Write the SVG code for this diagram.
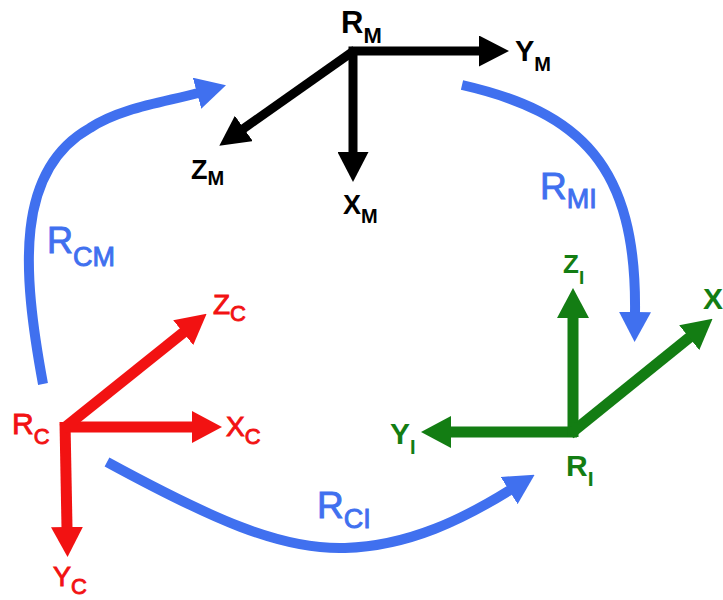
<svg xmlns="http://www.w3.org/2000/svg" width="723" height="600" viewBox="0 0 723 600">
<style>
.lbl{font-family:"Liberation Sans",Arial,sans-serif}
.b{font-weight:bold}
.blk{fill:#000}
.red{fill:#f21212;stroke:#f21212;stroke-width:0.9}
.grn{fill:#137d13}
.blu{fill:#4070ef;stroke:#4070ef;stroke-width:0.9}
.ax{fill:none;stroke-linecap:butt}
</style>
<defs>
<marker id="hBlk" markerUnits="userSpaceOnUse" viewBox="0 0 30 31" markerWidth="30" markerHeight="31" refX="1" refY="15.5" orient="auto"><path d="M0,0 L30,15.5 L0,31 z" fill="#000"/></marker>
<marker id="hRed" markerUnits="userSpaceOnUse" viewBox="0 0 30 32" markerWidth="30" markerHeight="32" refX="1" refY="16" orient="auto"><path d="M0,0 L30,16 L0,32 z" fill="#f21212"/></marker>
<marker id="hGrn" markerUnits="userSpaceOnUse" viewBox="0 0 30 32" markerWidth="30" markerHeight="32" refX="1" refY="16" orient="auto"><path d="M0,0 L30,16 L0,32 z" fill="#137d13"/></marker>
<marker id="hBlu" markerUnits="userSpaceOnUse" viewBox="0 0 30 32" markerWidth="30" markerHeight="32" refX="1" refY="16" orient="auto"><path d="M0,0 L30,16 L0,32 z" fill="#4070ef"/></marker>
</defs>
<rect width="723" height="600" fill="#fff"/>

<g id="frame-M">
<path class="ax" d="M353,55 L353,51 L480,51" stroke="#000" stroke-width="9" marker-end="url(#hBlk)"/>
<path class="ax" d="M353,51 L353,153" stroke="#000" stroke-width="9" marker-end="url(#hBlk)"/>
<path class="ax" d="M355,50 L243,129" stroke="#000" stroke-width="9" marker-end="url(#hBlk)"/>
<text class="lbl b blk" x="341" y="33" font-size="31">R<tspan font-size="22" dy="10">M</tspan></text>
<text class="lbl b blk" x="515" y="61" font-size="29">Y<tspan font-size="20" dy="10">M</tspan></text>
<text class="lbl b blk" x="191" y="179" font-size="27">Z<tspan font-size="20" dy="6">M</tspan></text>
<text class="lbl b blk" x="343" y="214" font-size="27">X<tspan font-size="20" dy="9">M</tspan></text>
</g>

<g id="frame-C">
<path class="ax" d="M65,427 L193,427" stroke="#f21212" stroke-width="11" marker-end="url(#hRed)"/>
<path class="ax" d="M65,422 L67,528" stroke="#f21212" stroke-width="11" marker-end="url(#hRed)"/>
<path class="ax" d="M63,429 L184,332" stroke="#f21212" stroke-width="11" marker-end="url(#hRed)"/>
<text class="lbl red" x="12" y="434" font-size="30">R<tspan font-size="22" dy="10">C</tspan></text>
<text class="lbl red" x="226" y="436" font-size="28">X<tspan font-size="22" dy="8">C</tspan></text>
<text class="lbl red" x="213" y="314" font-size="28">Z<tspan font-size="22" dy="7">C</tspan></text>
<text class="lbl red" x="53" y="586" font-size="27">Y<tspan font-size="22" dy="8">C</tspan></text>
</g>

<g id="frame-I">
<path class="ax" d="M577,432 L450,432" stroke="#137d13" stroke-width="11" marker-end="url(#hGrn)"/>
<path class="ax" d="M573,437 L573,317" stroke="#137d13" stroke-width="11" marker-end="url(#hGrn)"/>
<path class="ax" d="M570,434 L690,337" stroke="#137d13" stroke-width="11" marker-end="url(#hGrn)"/>
<text class="lbl b grn" x="563" y="273" font-size="26">Z<tspan font-size="19" dy="11">I</tspan></text>
<text class="lbl b grn" x="566" y="476" font-size="30">R<tspan font-size="21" dy="10">I</tspan></text>
<text class="lbl b grn" x="390" y="444" font-size="30">Y<tspan font-size="20" dy="10">I</tspan></text>
<text class="lbl b grn" x="703" y="309" font-size="30">X</text>
</g>

<g id="connectors">
<path class="ax" d="M43,384 C22,270 15,170 90,128 C120,108 165,102 198,93" stroke="#4070ef" stroke-width="10" marker-end="url(#hBlu)"/>
<path class="ax" d="M462,85 C580,112 637,165 635,313" stroke="#4070ef" stroke-width="10" marker-end="url(#hBlu)"/>
<path class="ax" d="M107,462 C210,518 280,550 345,548 C410,546 465,518 510,490" stroke="#4070ef" stroke-width="10" marker-end="url(#hBlu)"/>
<text class="lbl blu" x="47" y="253" font-size="36">R<tspan font-size="27" dy="13">CM</tspan></text>
<text class="lbl blu" x="317" y="518" font-size="37">R<tspan font-size="27" dy="10">CI</tspan></text>
<text class="lbl blu" x="540" y="199" font-size="37">R<tspan font-size="27" dy="9">MI</tspan></text>
</g>
</svg>
